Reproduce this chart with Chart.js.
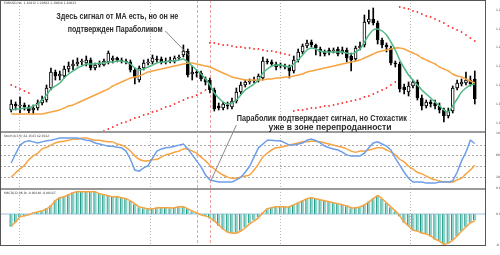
<!DOCTYPE html>
<html>
<head>
<meta charset="utf-8">
<script src="https://cdn.jsdelivr.net/npm/chart.js@4.4.1/dist/chart.umd.min.js"></script>
<style>
  html, body { margin: 0; padding: 0; background: #fff; }
  canvas { display: block; }
</style>
</head>
<body>
<canvas id="grafico" width="500" height="255"></canvas>
<script>
// EURUSD H4 - candles, MA, Parabolic SAR, Stochastic, MACD
const opens = [
  1.1980, 1.1992, 1.1988, 1.1990, 1.1986, 1.1980, 1.1984, 1.1994, 1.2000, 1.2024,
  1.2056, 1.2048, 1.2048, 1.2062, 1.2068, 1.2072, 1.2076, 1.2074, 1.2080, 1.2064,
  1.2070, 1.2070, 1.2076, 1.2080, 1.2084, 1.2080, 1.2078, 1.2076, 1.2060, 1.2040,
  1.2064, 1.2074, 1.2076, 1.2082, 1.2082, 1.2076, 1.2078, 1.2078, 1.2084, 1.2090,
  1.2098, 1.2052, 1.2056, 1.2054, 1.2042, 1.2040, 1.2020, 1.1988, 1.1984, 1.1990,
  1.1986, 1.1998, 1.2016, 1.2030, 1.2036, 1.2038, 1.2040, 1.2044, 1.2078, 1.2076,
  1.2072, 1.2068, 1.2068, 1.2066, 1.2058, 1.2080, 1.2096, 1.2108, 1.2116, 1.2110,
  1.2102, 1.2096, 1.2100, 1.2098, 1.2102, 1.2096, 1.2100, 1.2088, 1.2082, 1.2104,
  1.2110, 1.2156, 1.2162, 1.2154, 1.2120, 1.2110, 1.2104, 1.2074, 1.2072, 1.2026,
  1.2016, 1.2028, 1.2036, 1.2004, 1.1988, 1.1996, 1.1994, 1.1988, 1.1980, 1.1968,
  1.1978, 1.2024, 1.2032, 1.2034, 1.2040, 1.2042
];
const closes = [
  1.1992, 1.1988, 1.1990, 1.1986, 1.1978, 1.1984, 1.1994, 1.2000, 1.2024, 1.2056,
  1.2048, 1.2052, 1.2062, 1.2068, 1.2072, 1.2076, 1.2078, 1.2080, 1.2064, 1.2070,
  1.2072, 1.2078, 1.2094, 1.2084, 1.2080, 1.2078, 1.2076, 1.2060, 1.2044, 1.2064,
  1.2074, 1.2076, 1.2084, 1.2080, 1.2076, 1.2078, 1.2080, 1.2084, 1.2086, 1.2098,
  1.2050, 1.2056, 1.2054, 1.2042, 1.2036, 1.2020, 1.1982, 1.1984, 1.1992, 1.1988,
  1.1998, 1.2016, 1.2030, 1.2036, 1.2038, 1.2040, 1.2048, 1.2078, 1.2076, 1.2072,
  1.2066, 1.2070, 1.2066, 1.2058, 1.2080, 1.2096, 1.2108, 1.2114, 1.2110, 1.2104,
  1.2096, 1.2092, 1.2096, 1.2100, 1.2092, 1.2100, 1.2084, 1.2080, 1.2104, 1.2108,
  1.2156, 1.2162, 1.2154, 1.2120, 1.2110, 1.2106, 1.2074, 1.2072, 1.2022, 1.2020,
  1.2028, 1.2036, 1.2004, 1.1988, 1.1996, 1.1992, 1.1988, 1.1980, 1.1968, 1.1978,
  1.2024, 1.2034, 1.2036, 1.2040, 1.2032, 1.2002
];
const highs = [
  1.2000, 1.1996, 1.2006, 1.1994, 1.1990, 1.1990, 1.2000, 1.2008, 1.2030, 1.2064,
  1.2060, 1.2058, 1.2068, 1.2076, 1.2080, 1.2084, 1.2082, 1.2088, 1.2084, 1.2074,
  1.2078, 1.2082, 1.2098, 1.2088, 1.2086, 1.2084, 1.2082, 1.2080, 1.2064, 1.2068,
  1.2080, 1.2082, 1.2090, 1.2088, 1.2086, 1.2084, 1.2086, 1.2088, 1.2090, 1.2110,
  1.2102, 1.2068, 1.2060, 1.2058, 1.2046, 1.2044, 1.2024, 1.1994, 1.1996, 1.1996,
  1.2004, 1.2024, 1.2036, 1.2040, 1.2042, 1.2046, 1.2052, 1.2086, 1.2082, 1.2080,
  1.2076, 1.2074, 1.2072, 1.2070, 1.2088, 1.2102, 1.2112, 1.2120, 1.2120, 1.2112,
  1.2106, 1.2100, 1.2104, 1.2104, 1.2106, 1.2106, 1.2104, 1.2094, 1.2108, 1.2116,
  1.2170, 1.2180, 1.2184, 1.2158, 1.2124, 1.2114, 1.2108, 1.2078, 1.2076, 1.2032,
  1.2036, 1.2040, 1.2040, 1.2010, 1.2000, 1.2000, 1.2000, 1.1994, 1.1984, 1.1984,
  1.2028, 1.2040, 1.2042, 1.2056, 1.2048, 1.2058
];
const lows = [
  1.1976, 1.1980, 1.1974, 1.1980, 1.1974, 1.1972, 1.1980, 1.1990, 1.1996, 1.2020,
  1.2040, 1.2040, 1.2044, 1.2056, 1.2060, 1.2068, 1.2070, 1.2068, 1.2060, 1.2060,
  1.2066, 1.2068, 1.2072, 1.2074, 1.2076, 1.2074, 1.2072, 1.2056, 1.2032, 1.2036,
  1.2060, 1.2070, 1.2072, 1.2076, 1.2072, 1.2072, 1.2074, 1.2074, 1.2080, 1.2086,
  1.2046, 1.2040, 1.2046, 1.2038, 1.2030, 1.2014, 1.1978, 1.1980, 1.1980, 1.1982,
  1.1982, 1.1994, 1.2012, 1.2026, 1.2032, 1.2034, 1.2036, 1.2040, 1.2072, 1.2068,
  1.2060, 1.2064, 1.2062, 1.2044, 1.2054, 1.2076, 1.2092, 1.2104, 1.2106, 1.2090,
  1.2088, 1.2088, 1.2090, 1.2094, 1.2088, 1.2092, 1.2076, 1.2058, 1.2078, 1.2100,
  1.2106, 1.2152, 1.2150, 1.2112, 1.2104, 1.2096, 1.2070, 1.2066, 1.2016, 1.2012,
  1.2008, 1.2024, 1.2000, 1.1980, 1.1984, 1.1986, 1.1982, 1.1974, 1.1956, 1.1964,
  1.1974, 1.2020, 1.2028, 1.2030, 1.2028, 1.1992
];
const maFast = [
  1.1980, 1.1982, 1.1982, 1.1984, 1.1984, 1.1988, 1.1992, 1.2000, 1.2010, 1.2022,
  1.2028, 1.2034, 1.2044, 1.2052, 1.2058, 1.2064, 1.2068, 1.2072, 1.2072, 1.2072,
  1.2074, 1.2074, 1.2076, 1.2076, 1.2078, 1.2078, 1.2076, 1.2072, 1.2064, 1.2060,
  1.2062, 1.2066, 1.2070, 1.2074, 1.2076, 1.2076, 1.2078, 1.2078, 1.2080, 1.2082,
  1.2076, 1.2068, 1.2060, 1.2052, 1.2042, 1.2030, 1.2014, 1.2004, 1.1996, 1.1992,
  1.1994, 1.2000, 1.2010, 1.2020, 1.2026, 1.2032, 1.2040, 1.2054, 1.2062, 1.2068,
  1.2070, 1.2070, 1.2068, 1.2066, 1.2072, 1.2080, 1.2090, 1.2100, 1.2104, 1.2102,
  1.2098, 1.2096, 1.2096, 1.2096, 1.2096, 1.2096, 1.2094, 1.2092, 1.2096, 1.2102,
  1.2116, 1.2130, 1.2140, 1.2142, 1.2138, 1.2130, 1.2116, 1.2100, 1.2080, 1.2064,
  1.2050, 1.2040, 1.2030, 1.2020, 1.2012, 1.2004, 1.1996, 1.1988, 1.1980, 1.1976,
  1.1988, 1.2002, 1.2016, 1.2024, 1.2030, 1.2032
];
const maSlow = [
  1.1972, 1.1972, 1.1972, 1.1972, 1.1972, 1.1972, 1.1972, 1.1972, 1.1974, 1.1976,
  1.1978, 1.1980, 1.1984, 1.1988, 1.1990, 1.1994, 1.1998, 1.2002, 1.2006, 1.2010,
  1.2014, 1.2018, 1.2022, 1.2028, 1.2032, 1.2036, 1.2040, 1.2044, 1.2046, 1.2048,
  1.2052, 1.2056, 1.2058, 1.2060, 1.2062, 1.2064, 1.2066, 1.2068, 1.2070, 1.2072,
  1.2074, 1.2074, 1.2072, 1.2070, 1.2068, 1.2066, 1.2062, 1.2058, 1.2054, 1.2050,
  1.2046, 1.2044, 1.2042, 1.2040, 1.2040, 1.2040, 1.2040, 1.2040, 1.2042, 1.2042,
  1.2044, 1.2044, 1.2046, 1.2046, 1.2048, 1.2050, 1.2052, 1.2056, 1.2058, 1.2060,
  1.2062, 1.2064, 1.2066, 1.2068, 1.2070, 1.2072, 1.2074, 1.2076, 1.2078, 1.2080,
  1.2084, 1.2088, 1.2092, 1.2096, 1.2098, 1.2100, 1.2102, 1.2104, 1.2104, 1.2102,
  1.2098, 1.2094, 1.2090, 1.2084, 1.2080, 1.2076, 1.2072, 1.2066, 1.2062, 1.2058,
  1.2052, 1.2048, 1.2046, 1.2042, 1.2038, 1.2034
];
const sar = [
  1.2030, 1.2026, 1.2022, 1.2018, 1.2014, null, null, null, null, null,
  null, null, null, null, null, null, null, null, null, null,
  null, 1.1938, 1.1942, 1.1946, 1.1950, 1.1954, 1.1956, 1.1960, 1.1964, 1.1966,
  1.1970, 1.1972, 1.1976, 1.1978, 1.1982, 1.1986, 1.1988, 1.1992, 1.1996, 1.2000,
  1.2004, 1.2006, 1.2010, 1.2014, 1.2020, 1.2114, 1.2114, 1.2112, 1.2110, 1.2110,
  1.2108, 1.2106, 1.2106, 1.2104, 1.2104, 1.2102, 1.2102, 1.2100, 1.2098, 1.2098,
  1.2096, 1.2094, 1.2092, 1.2090, 1.1978, 1.1980, 1.1980, 1.1982, 1.1984, 1.1984,
  1.1986, 1.1988, 1.1988, 1.1990, 1.1992, 1.1994, 1.1996, 1.1998, 1.2000, 1.2002,
  1.2006, 1.2008, 1.2012, 1.2016, 1.2020, 1.2024, 1.2030, 1.2036, 1.2186, 1.2184,
  1.2182, 1.2178, 1.2176, 1.2172, 1.2168, 1.2166, 1.2162, 1.2158, 1.2154, 1.2148,
  1.2144, 1.2140, 1.2136, 1.2130, 1.2124, 1.2118
];
const stochMain = [
  46, 63, 79, 85, 87, 85, 83, 85, 87, 88,
  90, 92, 92, 92, 92, 92, 90, 88, 87, 83,
  81, 79, 77, 77, 75, 74, 68, 53, 33, 31,
  37, 41, 55, 68, 72, 74, 75, 77, 79, 81,
  72, 61, 50, 39, 24, 15, 13, 11, 11, 11,
  11, 15, 20, 29, 40, 57, 74, 81, 88, 88,
  87, 87, 83, 79, 79, 81, 83, 88, 90, 87,
  83, 77, 74, 72, 70, 66, 61, 59, 59, 59,
  64, 74, 83, 85, 81, 77, 70, 55, 42, 29,
  18, 11, 11, 11, 9, 9, 9, 11, 11, 11,
  13, 29, 50, 66, 88, 82
];
const stochSignal = [
  20, 28, 35, 42, 52, 59, 64, 72, 75, 79,
  83, 85, 86, 88, 90, 90, 92, 92, 90, 88,
  88, 86, 85, 85, 81, 79, 75, 68, 59, 53,
  50, 50, 52, 53, 57, 61, 63, 66, 68, 72,
  72, 68, 64, 57, 50, 42, 35, 29, 24, 20,
  18, 18, 20, 22, 24, 33, 44, 57, 64, 70,
  74, 75, 77, 79, 81, 83, 85, 85, 86, 86,
  85, 83, 81, 79, 77, 75, 72, 68, 66, 68,
  68, 70, 72, 74, 74, 70, 66, 61, 53, 48,
  40, 35, 29, 26, 22, 18, 15, 13, 11, 11,
  11, 15, 18, 26, 33, 42
];
const macdHist = [
  -0.00270, -0.00180, -0.00070, -0.00040, -0.00020, 0.00030, 0.00045, 0.00070, 0.00115, 0.00180,
  0.00285, 0.00340, 0.00365, 0.00410, 0.00450, 0.00470, 0.00465, 0.00470, 0.00455, 0.00460,
  0.00425, 0.00400, 0.00385, 0.00360, 0.00350, 0.00340, 0.00310, 0.00270, 0.00200, 0.00140,
  0.00120, 0.00100, 0.00110, 0.00130, 0.00125, 0.00130, 0.00120, 0.00130, 0.00150, 0.00145,
  0.00100, 0.00055, 0.00015, -0.00030, -0.00050, -0.00095, -0.00160, -0.00245, -0.00325, -0.00385,
  -0.00405, -0.00395, -0.00350, -0.00285, -0.00200, -0.00135, -0.00070, 0.00030, 0.00110, 0.00130,
  0.00150, 0.00145, 0.00150, 0.00145, 0.00195, 0.00240, 0.00280, 0.00320, 0.00340, 0.00310,
  0.00290, 0.00270, 0.00250, 0.00225, 0.00205, 0.00185, 0.00160, 0.00120, 0.00130, 0.00150,
  0.00195, 0.00260, 0.00325, 0.00385, 0.00310, 0.00225, 0.00140, 0.00055, -0.00055, -0.00180,
  -0.00260, -0.00345, -0.00365, -0.00405, -0.00425, -0.00470, -0.00535, -0.00575, -0.00640, -0.00615,
  -0.00550, -0.00465, -0.00355, -0.00270, -0.00185, -0.00140
];
const macdSignal = [
  -0.00252, -0.00168, -0.00063, -0.00042, -0.00021, 0.00021, 0.00042, 0.00063, 0.00105, 0.00168,
  0.00273, 0.00336, 0.00357, 0.00399, 0.00441, 0.00462, 0.00462, 0.00462, 0.00462, 0.00462,
  0.00420, 0.00399, 0.00378, 0.00357, 0.00357, 0.00336, 0.00315, 0.00273, 0.00210, 0.00147,
  0.00126, 0.00105, 0.00105, 0.00126, 0.00126, 0.00126, 0.00126, 0.00126, 0.00147, 0.00147,
  0.00105, 0.00063, 0.00021, -0.00021, -0.00042, -0.00084, -0.00147, -0.00231, -0.00315, -0.00378,
  -0.00399, -0.00399, -0.00357, -0.00294, -0.00210, -0.00147, -0.00084, 0.00021, 0.00105, 0.00126,
  0.00147, 0.00147, 0.00147, 0.00147, 0.00189, 0.00231, 0.00273, 0.00315, 0.00336, 0.00315,
  0.00294, 0.00273, 0.00252, 0.00231, 0.00210, 0.00189, 0.00168, 0.00126, 0.00126, 0.00147,
  0.00189, 0.00252, 0.00315, 0.00378, 0.00315, 0.00231, 0.00147, 0.00063, -0.00042, -0.00168,
  -0.00252, -0.00336, -0.00357, -0.00399, -0.00420, -0.00462, -0.00525, -0.00567, -0.00630, -0.00609,
  -0.00546, -0.00462, -0.00357, -0.00273, -0.00189, -0.00147
];

// tick labels: one every 4 bars
const labelStep = 4;
const timeLabels = [
  '5 Feb 2021', '8 Feb 08:00', '9 Feb 00:00', '9 Feb 16:00', '10 Feb 08:00', '11 Feb 00:00',
  '11 Feb 16:00', '12 Feb 08:00', '15 Feb 00:00', '15 Feb 16:00', '16 Feb 08:00', '17 Feb 00:00',
  '17 Feb 16:00', '18 Feb 08:00', '19 Feb 00:00', '19 Feb 16:00', '22 Feb 08:00', '23 Feb 00:00',
  '23 Feb 16:00', '24 Feb 08:00', '25 Feb 00:00', '25 Feb 16:00', '26 Feb 08:00', '1 Mar 00:00',
  '1 Mar 16:00', '2 Mar 08:00', '3 Mar 00:00'
];
const priceTicks = [1.21800, 1.21612, 1.21424, 1.21236, 1.21048, 1.20860, 1.20672,
                    1.20484, 1.20296, 1.20108, 1.19920, 1.19732, 1.19544];
const stochTicks = [100, 80, 60, 40, 20, 0];
const stochLevels = [80, 60, 40, 20];
const macdTicks = [0.00532, 0, -0.00655];

// week separators and the two signal bars (bar index)
const weekBreaks = [1.7, 31.4, 60.9, 90.4];
const signalBars = [42.1, 45.0];

const noteMa = ['Здесь сигнал от MA есть, но он не', 'подтвержден Параболиком'];
const noteSar = ['Параболик подтверждает сигнал, но Стохастик', 'уже в зоне перепроданности'];

const pts = arr => arr.map((v, i) => ({ x: i, y: v }));
const tiny = { size: 3, family: 'DejaVu Sans' };

const panes = {
  id: 'panes',
  beforeDatasetsDraw(chart) {
    const { ctx, chartArea: a, scales } = chart;
    const line = (x1, y1, x2, y2) => { ctx.beginPath(); ctx.moveTo(x1, y1); ctx.lineTo(x2, y2); ctx.stroke(); };
    ctx.save();
    ctx.lineWidth = 1;
    ctx.strokeStyle = '#a8a8a8';
    ctx.setLineDash([2, 2]);
    stochLevels.forEach(v => {
      const y = Math.round(scales.yStoch.getPixelForValue(v)) + 0.5;
      line(a.left, y, a.right, y);
    });
    ctx.setLineDash([]);
    ctx.strokeStyle = '#cfe0f0';
    ctx.lineWidth = 2;
    const z = Math.round(scales.yMacd.getPixelForValue(0));
    line(a.left, z, a.right, z);
    ctx.lineWidth = 1;
    ctx.strokeStyle = '#b5b5b5';
    ctx.setLineDash([1, 2]);
    weekBreaks.forEach(b => {
      const x = Math.round(scales.x.getPixelForValue(b)) + 0.5;
      line(x, a.top, x, a.bottom);
    });
    ctx.strokeStyle = '#f2a0a0';
    ctx.setLineDash([3, 2]);
    signalBars.forEach(b => {
      const x = Math.round(scales.x.getPixelForValue(b)) + 0.5;
      line(x, a.top, x, a.bottom);
    });
    ctx.restore();
  },
  afterDatasetsDraw(chart) {
    const { ctx, chartArea: a, scales } = chart;
    const { x, y, yStoch, yMacd } = scales;
    const line = (x1, y1, x2, y2) => { ctx.beginPath(); ctx.moveTo(x1, y1); ctx.lineTo(x2, y2); ctx.stroke(); };
    ctx.save();
    // pane separators
    ctx.fillStyle = '#9a9a9a';
    ctx.fillRect(a.left, Math.round(yStoch.top), a.right - a.left, 2);
    ctx.fillRect(a.left, Math.round(yMacd.top), a.right - a.left, 2);
    // frame
    ctx.strokeStyle = '#555';
    ctx.lineWidth = 1;
    ctx.strokeRect(a.left + 0.5, a.top + 0.5, a.right - a.left - 1, a.bottom - a.top - 1);
    // pane headers
    ctx.fillStyle = '#333';
    ctx.font = '3px DejaVu Sans';
    ctx.textBaseline = 'top';
    ctx.fillText('EURUSD,H4  1.20412 1.20583 1.19918 1.20023', a.left + 4, a.top + 2);
    ctx.fillText('Stoch(8,3,3) 82.1543 42.3012', a.left + 4, yStoch.top + 4);
    ctx.fillText('MACD(12,26,9) -0.00140 -0.00147', a.left + 4, yMacd.top + 4);
    // annotations
    ctx.strokeStyle = '#8a8a8a';
    line(x.getPixelForValue(34.9), y.getPixelForValue(1.2138), x.getPixelForValue(40.4), y.getPixelForValue(1.2088));
    line(x.getPixelForValue(51.0), y.getPixelForValue(1.1950), x.getPixelForValue(45.2), yStoch.getPixelForValue(13));
    ctx.fillStyle = '#2b2b2b';
    ctx.font = 'bold 9px "Liberation Sans"';
    ctx.textBaseline = 'middle';
    ctx.fillText(noteMa[0], x.getPixelForValue(10.2), y.getPixelForValue(1.2167), 122);
    ctx.fillText(noteMa[1], x.getPixelForValue(12.8), y.getPixelForValue(1.2141), 95);
    ctx.fillText(noteSar[0], x.getPixelForValue(51.1), y.getPixelForValue(1.1963), 170);
    ctx.fillText(noteSar[1], x.getPixelForValue(58.3), y.getPixelForValue(1.1944), 123);
    ctx.restore();
  }
};

const ctx = document.getElementById('grafico').getContext('2d');
const myChart = new Chart(ctx, {
  data: {
    datasets: [
      { type: 'line', label: 'MA fast', data: pts(maFast), yAxisID: 'y', order: 0,
        borderColor: '#4fb884', borderWidth: 1.5, pointRadius: 0, tension: 0.3 },
      { type: 'line', label: 'MA slow', data: pts(maSlow), yAxisID: 'y', order: 0,
        borderColor: '#f7a443', borderWidth: 1.5, pointRadius: 0, tension: 0.3 },
      { type: 'line', label: 'SAR', data: pts(sar), yAxisID: 'y', order: 0, showLine: false,
        pointRadius: 0.9, pointBorderWidth: 0, pointBackgroundColor: '#ff3030' },
      { type: 'bar', label: 'body', yAxisID: 'y', order: 1, grouped: false,
        data: opens.map((o, i) => ({ x: i, y: [o, closes[i]] })),
        backgroundColor: opens.map((o, i) => closes[i] >= o ? '#ffffff' : '#000000'),
        borderColor: '#000', borderWidth: 1, borderSkipped: false, barThickness: 3 },
      { type: 'bar', label: 'wick', yAxisID: 'y', order: 2, grouped: false,
        data: lows.map((l, i) => ({ x: i, y: [l, highs[i]] })),
        backgroundColor: '#000', barThickness: 1 },
      { type: 'line', label: 'Stoch', data: pts(stochMain), yAxisID: 'yStoch', order: 0,
        borderColor: '#6d9eea', borderWidth: 1.5, pointRadius: 0 },
      { type: 'line', label: 'Signal', data: pts(stochSignal), yAxisID: 'yStoch', order: 0,
        borderColor: '#f7a443', borderWidth: 1.5, pointRadius: 0, tension: 0.3 },
      { type: 'line', label: 'MACD signal', data: pts(macdSignal), yAxisID: 'yMacd', order: 0,
        borderColor: '#f7a443', borderWidth: 1.5, pointRadius: 0, tension: 0.3 },
      { type: 'bar', label: 'MACD', data: pts(macdHist), yAxisID: 'yMacd', order: 1, grouped: false,
        backgroundColor: '#8fd3c9', borderColor: '#1f9a8b', borderWidth: { left: 1 },
        borderSkipped: false, barThickness: 3 }
    ]
  },
  options: {
    responsive: false,
    animation: false,
    events: [],
    layout: { autoPadding: false, padding: 0 },
    plugins: { legend: { display: false }, tooltip: { enabled: false } },
    scales: {
      x: {
        type: 'linear', min: -0.5, max: 105.5,
        grid: { display: false }, border: { display: false },
        afterBuildTicks: s => { s.ticks = timeLabels.map((t, k) => ({ value: k * labelStep })); },
        afterFit: s => { s.height = 9; s.paddingLeft = 0; s.paddingRight = 0; },
        ticks: { autoSkip: false, maxRotation: 0, align: 'start', padding: 2, color: '#444', font: tiny,
                 callback: v => timeLabels[Math.round(v / labelStep)] }
      },
      y: {
        position: 'right', stack: 'panes', stackWeight: 131, min: 1.1938, max: 1.2200,
        grid: { display: false }, border: { display: false },
        afterBuildTicks: s => { s.ticks = priceTicks.map(v => ({ value: v })); },
        afterFit: s => { s.width = 14; s.paddingTop = 0; s.paddingBottom = 0; },
        ticks: { padding: 2, color: '#444', font: tiny, callback: v => v.toFixed(5) }
      },
      yStoch: {
        position: 'right', stack: 'panes', stackWeight: 57, min: 0, max: 105,
        grid: { display: false }, border: { display: false },
        afterBuildTicks: s => { s.ticks = stochTicks.map(v => ({ value: v })); },
        afterFit: s => { s.width = 14; s.paddingTop = 0; s.paddingBottom = 0; },
        ticks: { padding: 2, color: '#444', font: tiny }
      },
      yMacd: {
        position: 'right', stack: 'panes', stackWeight: 58, min: -0.0067, max: 0.0054,
        grid: { display: false }, border: { display: false },
        afterBuildTicks: s => { s.ticks = macdTicks.map(v => ({ value: v })); },
        afterFit: s => { s.width = 14; s.paddingTop = 0; s.paddingBottom = 0; },
        ticks: { padding: 2, color: '#444', font: tiny, callback: v => v === 0 ? '0.00' : v.toFixed(6) }
      }
    }
  },
  plugins: [panes]
});
</script>
</body>
</html>
